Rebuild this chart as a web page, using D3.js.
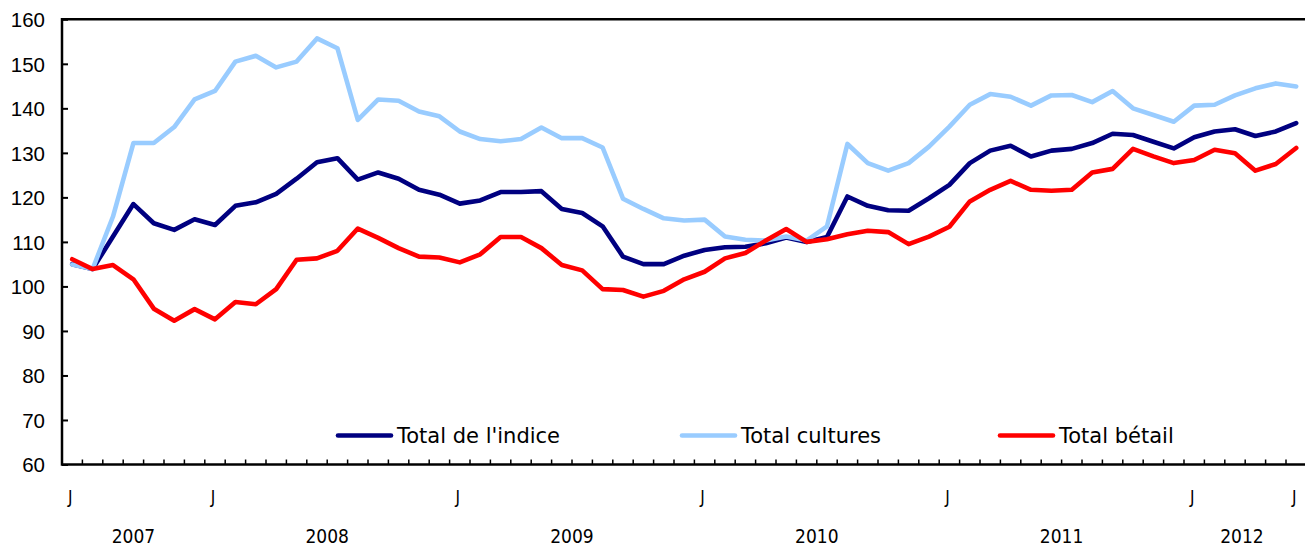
<!DOCTYPE html>
<html>
<head>
<meta charset="utf-8">
<script src="https://cdn.jsdelivr.net/npm/d3@7"></script>
<style>
  html, body { margin: 0; padding: 0; background: #fff; }
  svg { display: block; }
</style>
</head>
<body>
<svg id="chart" width="1305" height="548"></svg>
<script>
// ---- Data (June 2007 to June 2012, monthly) ----
const months = [];
(function () {
  let yy = 2007, mm = 6;
  for (let k = 0; k < 61; k++) {
    months.push(yy + "-" + String(mm).padStart(2, "0"));
    mm++; if (mm > 12) { mm = 1; yy++; }
  }
})();

const totalIndice = [105.0, 103.9, 111.2, 118.5, 114.2, 112.7, 115.1, 113.8, 118.1, 118.9,
  120.8, 124.2, 127.9, 128.8, 124.0, 125.6, 124.2, 121.7, 120.6, 118.6,
  119.3, 121.2, 121.2, 121.4, 117.4, 116.5, 113.5, 106.7, 105.0, 105.0,
  106.9, 108.2, 108.8, 108.9, 109.7, 111.0, 110.0, 111.1, 120.2, 118.1,
  117.1, 117.0, 119.8, 122.8, 127.7, 130.5, 131.6, 129.2, 130.5, 130.9,
  132.2, 134.3, 134.0, 132.5, 131.0, 133.5, 134.8, 135.3, 133.8, 134.8, 136.7];

const totalCultures = [104.9, 103.9, 115.7, 132.2, 132.2, 135.8, 142.0, 143.9, 150.5, 151.8,
  149.2, 150.5, 155.7, 153.5, 137.4, 142.0, 141.7, 139.3, 138.2, 134.8,
  133.1, 132.6, 133.1, 135.7, 133.3, 133.3, 131.2, 119.7, 117.4, 115.3,
  114.8, 115.0, 111.2, 110.5, 110.3, 111.2, 110.3, 113.5, 132.0, 127.7,
  126.0, 127.7, 131.4, 135.9, 140.8, 143.2, 142.6, 140.6, 142.9, 143.0,
  141.4, 143.9, 140.0, 138.5, 137.0, 140.6, 140.8, 142.9, 144.5, 145.6, 144.9];

const totalBetail = [106.1, 103.9, 104.8, 101.6, 95.0, 92.3, 94.9, 92.6, 96.5, 96.0,
  99.4, 106.0, 106.3, 108.0, 113.0, 110.9, 108.6, 106.7, 106.5, 105.4,
  107.2, 111.1, 111.1, 108.6, 104.8, 103.6, 99.4, 99.2, 97.7, 99.0,
  101.6, 103.3, 106.3, 107.5, 110.3, 112.9, 110.0, 110.6, 111.7, 112.5,
  112.2, 109.5, 111.2, 113.4, 119.1, 121.7, 123.7, 121.7, 121.5, 121.7,
  125.6, 126.4, 130.9, 129.2, 127.7, 128.4, 130.7, 129.9, 126.0, 127.5, 131.1];

const seriesNames = ["Total de l'indice", "Total cultures", "Total bétail"];
const seriesColors = ["#000080", "#99CCFF", "#FF0000"];
const yTicks = [60, 70, 80, 90, 100, 110, 120, 130, 140, 150, 160];
const monthLabels = [
  { month: "2007-06", label: "J" }, { month: "2008-01", label: "J" },
  { month: "2009-01", label: "J" }, { month: "2010-01", label: "J" },
  { month: "2011-01", label: "J" }, { month: "2012-01", label: "J" },
  { month: "2012-06", label: "J" }
];
const years = ["2007", "2008", "2009", "2010", "2011", "2012"];

(function draw() {
  const svg = d3.select("#chart");
  const pLeft = 62, pTop = 19.3, pBottom = 464.5, pRight = 1306.4;

  const x = d3.scaleBand().domain(months).range([pLeft, pRight]).padding(0);
  const bw = x.bandwidth();
  const y = d3.scaleLinear().domain([60, 160]).range([pBottom, pTop]);
  const cx = m => x(m) + bw / 2;

  const axisFont = "'Liberation Sans', Arial, sans-serif";
  const narrowFont = "'Liberation Sans Narrow', 'DejaVu Sans Condensed', 'Liberation Sans', sans-serif";
  const legendFont = "'DejaVu Sans', Verdana, sans-serif";

  // Y axis labels and ticks
  const yAxis = d3.axisLeft(y).tickValues(yTicks).tickSize(-6).tickPadding(0).tickFormat(d3.format("d"));
  const gy = svg.append("g").attr("transform", `translate(${pLeft},0)`).call(yAxis);
  gy.select(".domain").remove();
  gy.selectAll(".tick line").attr("stroke", "#000").attr("stroke-width", 2);
  gy.selectAll(".tick text")
    .attr("x", -17).attr("dy", "0.36em")
    .style("font-family", axisFont).style("font-size", "20.5px").attr("fill", "#000")
    .attr("text-anchor", "end");

  // X axis ticks at band boundaries
  const tickPos = months.map(m => x(m)).concat([pRight]);
  svg.append("g").selectAll("line").data(tickPos.slice(1)).join("line")
    .attr("x1", d => d).attr("x2", d => d)
    .attr("y1", pBottom).attr("y2", pBottom - 5)
    .attr("stroke", "#000").attr("stroke-width", 1.5);

  // Frame
  svg.append("line").attr("x1", pLeft).attr("x2", 1305).attr("y1", pTop).attr("y2", pTop)
    .attr("stroke", "#000").attr("stroke-width", 2.5);
  svg.append("line").attr("x1", pLeft).attr("x2", 1305).attr("y1", pBottom).attr("y2", pBottom)
    .attr("stroke", "#000").attr("stroke-width", 2.5);
  svg.append("line").attr("x1", pLeft).attr("x2", pLeft).attr("y1", pTop - 1.2).attr("y2", pBottom + 1.2)
    .attr("stroke", "#000").attr("stroke-width", 2.5);

  // X labels
  svg.append("g").selectAll("text").data(monthLabels).join("text")
    .attr("x", d => cx(d.month) - 2).attr("y", 497).attr("dy", "0.36em")
    .attr("text-anchor", "middle")
    .style("font-family", narrowFont).style("font-size", "17px").attr("fill", "#000")
    .text(d => d.label);

  svg.append("g").selectAll("text").data(years).join("text")
    .attr("x", yr => {
      const ms = months.filter(m => m.startsWith(yr));
      const a = x(ms[0]), b = x(ms[ms.length - 1]) + bw;
      return (a + Math.min(b, 1300)) / 2;
    })
    .attr("y", 536.5).attr("dy", "0.36em")
    .attr("text-anchor", "middle")
    .style("font-family", narrowFont).style("font-size", "19px").attr("fill", "#000")
    .text(d => d);

  // Lines
  const lineGen = d3.line().x((d, i) => cx(months[i])).y(d => y(d));
  const allSeries = [totalIndice, totalCultures, totalBetail];
  svg.append("g").selectAll("path").data(allSeries).join("path")
    .attr("d", d => lineGen(d))
    .attr("fill", "none")
    .attr("stroke", (d, i) => seriesColors[i])
    .attr("stroke-width", 4.6)
    .attr("stroke-linejoin", "round")
    .attr("stroke-linecap", "round");

  // Legend
  const legendX = [338, 682, 1000];
  const lg = svg.append("g").selectAll("g").data(seriesNames).join("g")
    .attr("transform", (d, i) => `translate(${legendX[i]},435.5)`);
  lg.append("line").attr("x1", 0).attr("x2", 53).attr("y1", 0).attr("y2", 0)
    .attr("stroke", (d, i) => seriesColors[i]).attr("stroke-width", 4.6).attr("stroke-linecap", "round");
  lg.append("text").attr("x", 59).attr("y", 0).attr("dy", "0.36em")
    .style("font-family", legendFont).style("font-size", "21px").attr("fill", "#000")
    .text(d => d);
})();
</script>
</body>
</html>
